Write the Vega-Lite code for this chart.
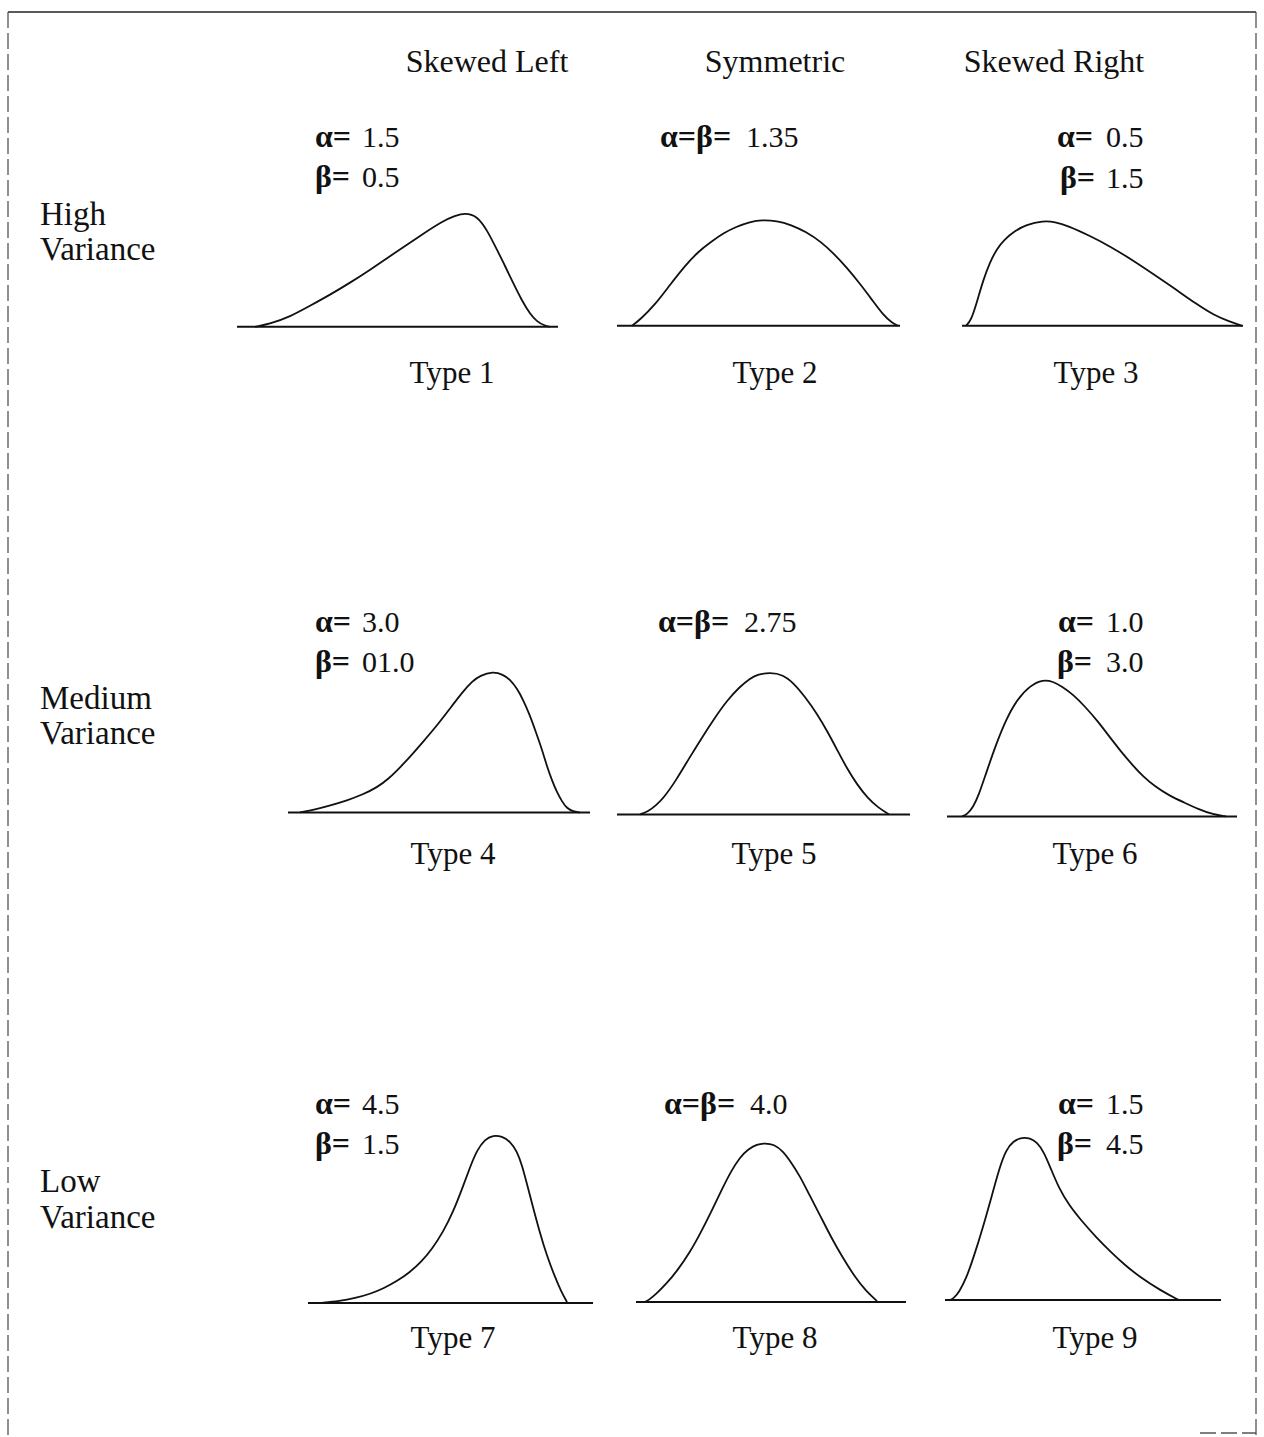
{
  "$schema": "https://vega.github.io/schema/vega-lite/v6.json",
  "autosize": {"type": "fit", "contains": "padding"},
  "width": 1264,
  "height": 1437,
  "padding": 0,
  "background": "white",
  "config": {"view": {"stroke": null}},
  "datasets": {
    "frame": [
      {"part": "top", "x": 8, "x2": 1256, "y": 12, "y2": 12},
      {"part": "left", "x": 8, "x2": 8, "y": 12, "y2": 1437},
      {"part": "right", "x": 1256, "x2": 1256, "y": 12, "y2": 1437},
      {"part": "corner", "x": 1200, "x2": 1256, "y": 1434, "y2": 1434}
    ],
    "baselines": [
      {"type": 1, "x": 237, "x2": 558, "y": 327},
      {"type": 2, "x": 617, "x2": 900, "y": 326},
      {"type": 3, "x": 962, "x2": 1243, "y": 326},
      {"type": 4, "x": 288, "x2": 590, "y": 813},
      {"type": 5, "x": 617, "x2": 910, "y": 815},
      {"type": 6, "x": 947, "x2": 1237, "y": 817},
      {"type": 7, "x": 308, "x2": 593, "y": 1304},
      {"type": 8, "x": 636, "x2": 906, "y": 1303},
      {"type": 9, "x": 945, "x2": 1221, "y": 1301}
    ],
    "curves": [
      {"type":1,"x":255,"y":327},{"type":1,"x":270,"y":324},{"type":1,"x":290,"y":317},{"type":1,"x":310,"y":306},{"type":1,"x":330,"y":295},{"type":1,"x":350,"y":283},{"type":1,"x":370,"y":270},{"type":1,"x":395,"y":253},{"type":1,"x":420,"y":236},{"type":1,"x":443,"y":221},{"type":1,"x":455,"y":216},{"type":1,"x":465,"y":213},{"type":1,"x":477,"y":216},{"type":1,"x":487,"y":230},{"type":1,"x":497,"y":250},{"type":1,"x":505,"y":266},{"type":1,"x":513,"y":283},{"type":1,"x":522,"y":301},{"type":1,"x":530,"y":314},{"type":1,"x":537,"y":322},{"type":1,"x":545,"y":326},{"type":1,"x":550,"y":327},
      {"type":2,"x":632,"y":326},{"type":2,"x":640,"y":320},{"type":2,"x":655,"y":305},{"type":2,"x":670,"y":285},{"type":2,"x":685,"y":266},{"type":2,"x":698,"y":252},{"type":2,"x":711,"y":242},{"type":2,"x":724,"y":233},{"type":2,"x":736,"y":227},{"type":2,"x":750,"y":222},{"type":2,"x":762,"y":220},{"type":2,"x":777,"y":221},{"type":2,"x":791,"y":225},{"type":2,"x":806,"y":232},{"type":2,"x":821,"y":242},{"type":2,"x":834,"y":254},{"type":2,"x":847,"y":268},{"type":2,"x":860,"y":284},{"type":2,"x":872,"y":300},{"type":2,"x":883,"y":315},{"type":2,"x":892,"y":323},{"type":2,"x":898,"y":326},
      {"type":3,"x":966,"y":326},{"type":3,"x":971,"y":321},{"type":3,"x":977,"y":302},{"type":3,"x":983,"y":281},{"type":3,"x":990,"y":262},{"type":3,"x":997,"y":249},{"type":3,"x":1004,"y":240},{"type":3,"x":1015,"y":231},{"type":3,"x":1026,"y":225},{"type":3,"x":1043,"y":221},{"type":3,"x":1055,"y":222},{"type":3,"x":1068,"y":226},{"type":3,"x":1090,"y":236},{"type":3,"x":1111,"y":247},{"type":3,"x":1132,"y":260},{"type":3,"x":1153,"y":274},{"type":3,"x":1175,"y":289},{"type":3,"x":1196,"y":304},{"type":3,"x":1215,"y":316},{"type":3,"x":1230,"y":322},{"type":3,"x":1242,"y":326},
      {"type":4,"x":300,"y":813},{"type":4,"x":315,"y":810},{"type":4,"x":330,"y":806},{"type":4,"x":347,"y":801},{"type":4,"x":363,"y":795},{"type":4,"x":377,"y":788},{"type":4,"x":389,"y":779},{"type":4,"x":401,"y":767},{"type":4,"x":413,"y":754},{"type":4,"x":425,"y":740},{"type":4,"x":437,"y":726},{"type":4,"x":450,"y":709},{"type":4,"x":463,"y":692},{"type":4,"x":472,"y":682},{"type":4,"x":480,"y":676},{"type":4,"x":493,"y":672},{"type":4,"x":503,"y":675},{"type":4,"x":510,"y":680},{"type":4,"x":517,"y":689},{"type":4,"x":523,"y":700},{"type":4,"x":530,"y":716},{"type":4,"x":536,"y":733},{"type":4,"x":542,"y":750},{"type":4,"x":547,"y":767},{"type":4,"x":552,"y":781},{"type":4,"x":557,"y":793},{"type":4,"x":562,"y":802},{"type":4,"x":567,"y":809},{"type":4,"x":573,"y":812},{"type":4,"x":580,"y":813},
      {"type":5,"x":640,"y":815},{"type":5,"x":648,"y":812},{"type":5,"x":656,"y":806},{"type":5,"x":664,"y":798},{"type":5,"x":676,"y":781},{"type":5,"x":689,"y":759},{"type":5,"x":702,"y":738},{"type":5,"x":715,"y":718},{"type":5,"x":727,"y":701},{"type":5,"x":740,"y":687},{"type":5,"x":750,"y":679},{"type":5,"x":757,"y":675},{"type":5,"x":770,"y":673},{"type":5,"x":783,"y":675},{"type":5,"x":794,"y":684},{"type":5,"x":804,"y":696},{"type":5,"x":817,"y":714},{"type":5,"x":828,"y":733},{"type":5,"x":838,"y":752},{"type":5,"x":847,"y":769},{"type":5,"x":857,"y":785},{"type":5,"x":868,"y":799},{"type":5,"x":878,"y":808},{"type":5,"x":889,"y":815},
      {"type":6,"x":962,"y":817},{"type":6,"x":967,"y":815},{"type":6,"x":973,"y":808},{"type":6,"x":979,"y":795},{"type":6,"x":986,"y":774},{"type":6,"x":996,"y":745},{"type":6,"x":1006,"y":720},{"type":6,"x":1017,"y":700},{"type":6,"x":1030,"y":686},{"type":6,"x":1043,"y":680},{"type":6,"x":1053,"y":682},{"type":6,"x":1062,"y":687},{"type":6,"x":1073,"y":695},{"type":6,"x":1085,"y":707},{"type":6,"x":1098,"y":722},{"type":6,"x":1110,"y":738},{"type":6,"x":1121,"y":752},{"type":6,"x":1132,"y":765},{"type":6,"x":1143,"y":777},{"type":6,"x":1155,"y":787},{"type":6,"x":1169,"y":796},{"type":6,"x":1184,"y":803},{"type":6,"x":1199,"y":810},{"type":6,"x":1213,"y":815},{"type":6,"x":1226,"y":817},
      {"type":7,"x":320,"y":1304},{"type":7,"x":340,"y":1302},{"type":7,"x":355,"y":1299},{"type":7,"x":370,"y":1295},{"type":7,"x":384,"y":1289},{"type":7,"x":397,"y":1282},{"type":7,"x":410,"y":1273},{"type":7,"x":421,"y":1263},{"type":7,"x":432,"y":1250},{"type":7,"x":443,"y":1233},{"type":7,"x":453,"y":1213},{"type":7,"x":462,"y":1190},{"type":7,"x":470,"y":1168},{"type":7,"x":477,"y":1151},{"type":7,"x":485,"y":1140},{"type":7,"x":493,"y":1136},{"type":7,"x":502,"y":1137},{"type":7,"x":510,"y":1142},{"type":7,"x":517,"y":1152},{"type":7,"x":522,"y":1166},{"type":7,"x":527,"y":1185},{"type":7,"x":533,"y":1208},{"type":7,"x":540,"y":1234},{"type":7,"x":547,"y":1257},{"type":7,"x":555,"y":1278},{"type":7,"x":561,"y":1292},{"type":7,"x":567,"y":1303},
      {"type":8,"x":645,"y":1303},{"type":8,"x":650,"y":1300},{"type":8,"x":657,"y":1294},{"type":8,"x":666,"y":1285},{"type":8,"x":677,"y":1272},{"type":8,"x":690,"y":1253},{"type":8,"x":701,"y":1233},{"type":8,"x":712,"y":1211},{"type":8,"x":722,"y":1190},{"type":8,"x":731,"y":1172},{"type":8,"x":740,"y":1158},{"type":8,"x":748,"y":1150},{"type":8,"x":757,"y":1145},{"type":8,"x":765,"y":1144},{"type":8,"x":774,"y":1145},{"type":8,"x":783,"y":1152},{"type":8,"x":791,"y":1163},{"type":8,"x":800,"y":1177},{"type":8,"x":809,"y":1195},{"type":8,"x":820,"y":1216},{"type":8,"x":831,"y":1238},{"type":8,"x":843,"y":1259},{"type":8,"x":855,"y":1278},{"type":8,"x":866,"y":1292},{"type":8,"x":877,"y":1302},
      {"type":9,"x":950,"y":1301},{"type":9,"x":954,"y":1299},{"type":9,"x":959,"y":1293},{"type":9,"x":966,"y":1280},{"type":9,"x":974,"y":1257},{"type":9,"x":983,"y":1228},{"type":9,"x":992,"y":1196},{"type":9,"x":1000,"y":1167},{"type":9,"x":1006,"y":1151},{"type":9,"x":1013,"y":1142},{"type":9,"x":1022,"y":1138},{"type":9,"x":1030,"y":1139},{"type":9,"x":1037,"y":1143},{"type":9,"x":1044,"y":1153},{"type":9,"x":1051,"y":1170},{"type":9,"x":1059,"y":1189},{"type":9,"x":1069,"y":1206},{"type":9,"x":1081,"y":1221},{"type":9,"x":1096,"y":1238},{"type":9,"x":1111,"y":1253},{"type":9,"x":1125,"y":1266},{"type":9,"x":1140,"y":1278},{"type":9,"x":1160,"y":1291},{"type":9,"x":1179,"y":1301}
    ],
    "headers": [
      {"text": "Skewed Left", "x": 487, "y": 72},
      {"text": "Symmetric", "x": 775, "y": 72},
      {"text": "Skewed Right", "x": 1054, "y": 72}
    ],
    "rowlabels": [
      {"text": "High", "x": 40, "y": 225},
      {"text": "Variance", "x": 40, "y": 260},
      {"text": "Medium", "x": 40, "y": 709},
      {"text": "Variance", "x": 40, "y": 745},
      {"text": "Low", "x": 40, "y": 1193},
      {"text": "Variance", "x": 40, "y": 1229}
    ],
    "typelabels": [
      {"text": "Type 1", "x": 452, "y": 383},
      {"text": "Type 2", "x": 775, "y": 383},
      {"text": "Type 3", "x": 1096, "y": 383},
      {"text": "Type 4", "x": 453, "y": 865},
      {"text": "Type 5", "x": 774, "y": 865},
      {"text": "Type 6", "x": 1095, "y": 865},
      {"text": "Type 7", "x": 453, "y": 1349},
      {"text": "Type 8", "x": 775, "y": 1349},
      {"text": "Type 9", "x": 1095, "y": 1349}
    ],
    "params": [
      {"sym": "α=", "val": "1.5", "x": 315, "xv": 362, "y": 147},
      {"sym": "β=", "val": "0.5", "x": 315, "xv": 362, "y": 187},
      {"sym": "α=β=", "val": "1.35", "x": 660, "xv": 746, "y": 147},
      {"sym": "α=", "val": "0.5", "x": 1057, "xv": 1106, "y": 147},
      {"sym": "β=", "val": "1.5", "x": 1060, "xv": 1106, "y": 188},
      {"sym": "α=", "val": "3.0", "x": 315, "xv": 362, "y": 632},
      {"sym": "β=", "val": "01.0", "x": 315, "xv": 362, "y": 672},
      {"sym": "α=β=", "val": "2.75", "x": 658, "xv": 744, "y": 632},
      {"sym": "α=", "val": "1.0", "x": 1058, "xv": 1106, "y": 632},
      {"sym": "β=", "val": "3.0", "x": 1057, "xv": 1106, "y": 672},
      {"sym": "α=", "val": "4.5", "x": 315, "xv": 362, "y": 1115},
      {"sym": "β=", "val": "1.5", "x": 315, "xv": 362, "y": 1155},
      {"sym": "α=β=", "val": "4.0", "x": 664, "xv": 750, "y": 1115},
      {"sym": "α=", "val": "1.5", "x": 1058, "xv": 1106, "y": 1115},
      {"sym": "β=", "val": "4.5", "x": 1057, "xv": 1106, "y": 1155}
    ]
  },
  "encoding": {
    "x": {"field": "x", "type": "quantitative", "scale": {"domain": [0, 1264], "nice": false, "zero": false}, "axis": null},
    "y": {"field": "y", "type": "quantitative", "scale": {"domain": [0, 1437], "nice": false, "zero": false, "reverse": true}, "axis": null}
  },
  "layer": [
    {
      "data": {"name": "frame"},
      "transform": [{"filter": "datum.part === 'top'"}],
      "mark": {"type": "rule", "stroke": "#222", "strokeWidth": 1.6},
      "encoding": {"x2": {"field": "x2"}, "y2": {"field": "y2"}}
    },
    {
      "data": {"name": "frame"},
      "transform": [{"filter": "datum.part !== 'top'"}],
      "mark": {"type": "rule", "stroke": "#555", "strokeWidth": 1.3, "strokeDash": [16, 5]},
      "encoding": {"x2": {"field": "x2"}, "y2": {"field": "y2"}}
    },
    {
      "data": {"name": "baselines"},
      "mark": {"type": "rule", "stroke": "#111", "strokeWidth": 2},
      "encoding": {"x2": {"field": "x2"}}
    },
    {
      "data": {"name": "curves"},
      "mark": {"type": "line", "stroke": "#111", "strokeWidth": 1.8, "interpolate": "basis"},
      "encoding": {"detail": {"field": "type", "type": "nominal"}}
    },
    {
      "data": {"name": "headers"},
      "mark": {"type": "text", "font": "Liberation Serif", "fontSize": 32, "align": "center", "baseline": "alphabetic", "fill": "#111"},
      "encoding": {"text": {"field": "text"}}
    },
    {
      "data": {"name": "rowlabels"},
      "mark": {"type": "text", "font": "Liberation Serif", "fontSize": 33, "align": "left", "baseline": "alphabetic", "fill": "#111"},
      "encoding": {"text": {"field": "text"}}
    },
    {
      "data": {"name": "typelabels"},
      "mark": {"type": "text", "font": "Liberation Serif", "fontSize": 31, "align": "center", "baseline": "alphabetic", "fill": "#111"},
      "encoding": {"text": {"field": "text"}}
    },
    {
      "data": {"name": "params"},
      "mark": {"type": "text", "font": "Liberation Serif", "fontSize": 32, "fontWeight": "bold", "align": "left", "baseline": "alphabetic", "fill": "#111"},
      "encoding": {"text": {"field": "sym"}}
    },
    {
      "data": {"name": "params"},
      "mark": {"type": "text", "font": "Liberation Serif", "fontSize": 30, "align": "left", "baseline": "alphabetic", "fill": "#111"},
      "encoding": {"x": {"field": "xv", "type": "quantitative"}, "text": {"field": "val"}}
    }
  ]
}
